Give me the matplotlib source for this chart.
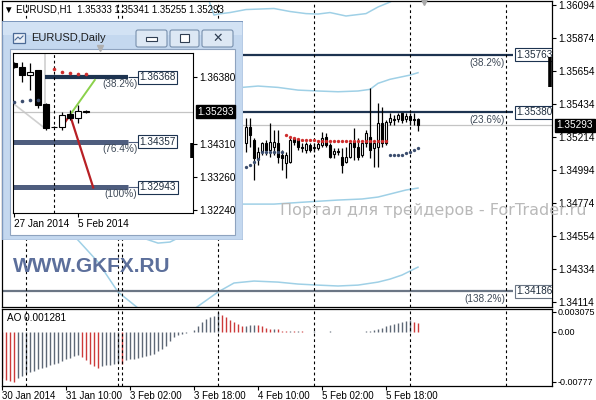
"""MT4 screenshot: EURUSD H1 with Bollinger bands, Fibonacci levels, AO and a Daily inset window."""
import matplotlib

matplotlib.use("Agg")
from matplotlib import pyplot as plt
from matplotlib import transforms
from matplotlib.patches import Rectangle, FancyBboxPatch

plt.rcParams["font.family"] = ["Liberation Sans", "DejaVu Sans"]
plt.rcParams["font.size"] = 7.2

BAND, NAVY, SLATE, GRAYLVL = "#9fd0e6", "#1d3350", "#4e5d7e", "#6b7685"
RED, DOTBLUE, AO_UP, AO_DN = "#cf2e2e", "#3b4d6e", "#5e6876", "#cc3a3a"
PRICE_LINE, LABEL = "#c4c4c4", "#3f4a58"

# ---------------- H1 data (bar index 0 = 30 Jan 18:00) ----------------
bars = list(range(61, 105))
opens = [1.35172, 1.35283, 1.35194, 1.35072, 1.35116, 1.35172, 1.35127, 1.35150, 1.35172, 1.35094,
         1.35039, 1.35050, 1.35205, 1.35194, 1.35150, 1.35127, 1.35161, 1.35139, 1.35139, 1.35161,
         1.35216, 1.35161, 1.35101, 1.35123, 1.35083, 1.35050, 1.35083, 1.35183, 1.35150, 1.35094,
         1.35172, 1.35216, 1.35139, 1.35150, 1.35305, 1.35172, 1.35316, 1.35332, 1.35332, 1.35372,
         1.35332, 1.35354, 1.35332, 1.35333]
highs = [1.35338, 1.35338, 1.35205, 1.35150, 1.35183, 1.35194, 1.35305, 1.35261, 1.35261, 1.35127,
         1.35116, 1.35205, 1.35216, 1.35205, 1.35172, 1.35183, 1.35172, 1.35172, 1.35194, 1.35250,
         1.35238, 1.35172, 1.35139, 1.35139, 1.35139, 1.35150, 1.35183, 1.35272, 1.35205, 1.35194,
         1.35261, 1.35538, 1.35183, 1.35438, 1.35416, 1.35327, 1.35372, 1.35361, 1.35372, 1.35376,
         1.35372, 1.35372, 1.35372, 1.35341]
lows = [1.35116, 1.35150, 1.34927, 1.35028, 1.35094, 1.35094, 1.35083, 1.35094, 1.35039, 1.34994,
        1.34938, 1.35039, 1.35161, 1.35127, 1.35116, 1.35105, 1.35116, 1.35116, 1.35127, 1.35150,
        1.35150, 1.35072, 1.35072, 1.35094, 1.34972, 1.35039, 1.35072, 1.35061, 1.35061, 1.35083,
        1.35150, 1.35072, 1.35016, 1.35016, 1.35150, 1.35161, 1.35294, 1.35294, 1.35316, 1.35305,
        1.35316, 1.35294, 1.35294, 1.35255]
closes = [1.35283, 1.35227, 1.35072, 1.35116, 1.35172, 1.35127, 1.35183, 1.35183, 1.35083, 1.35072,
          1.35094, 1.35194, 1.35183, 1.35150, 1.35139, 1.35167, 1.35127, 1.35150, 1.35167, 1.35205,
          1.35161, 1.35083, 1.35123, 1.35114, 1.35028, 1.35083, 1.35172, 1.35150, 1.35083, 1.35172,
          1.35238, 1.35127, 1.35172, 1.35305, 1.35172, 1.35316, 1.35338, 1.35327, 1.35361, 1.35327,
          1.35356, 1.35327, 1.35327, 1.35293]
last_close = 1.35293

# Bollinger bands (two sets)
bb_outer_up_x = [51, 53, 54, 57, 61, 68, 72, 76, 79, 82, 86, 91, 94, 97, 99]
bb_outer_up_y = [1.36180, 1.36027, 1.36034, 1.36044, 1.36064, 1.36071, 1.36051, 1.36037, 1.36034,
                 1.36044, 1.36021, 1.36037, 1.36081, 1.36114, 1.36147]
bb_inner_up_x = [56, 60, 64, 69, 74, 79, 84, 89, 92, 94, 97, 102, 104]
bb_inner_up_y = [1.35570, 1.35545, 1.35554, 1.35545, 1.35527, 1.35521, 1.35516, 1.35521, 1.35532,
                 1.35572, 1.35599, 1.35627, 1.35643]
bb_inner_lo_x = [30, 33, 36, 39, 42, 45, 50, 55, 60, 68, 76, 84, 90, 94, 97, 101, 104]
bb_inner_lo_y = [1.34640, 1.34581, 1.34534, 1.34507, 1.34514, 1.34554, 1.34647, 1.34714, 1.34767,
                 1.34767, 1.34781, 1.34794, 1.34801, 1.34814, 1.34834, 1.34861, 1.34874]
bb_outer_lo_x = [12, 15, 19, 24, 29, 34, 38, 43, 48, 54, 58, 63, 69, 74, 79, 84, 89, 94, 97, 100, 104]
bb_outer_lo_y = [1.34720, 1.34627, 1.34527, 1.34381, 1.34181, 1.34074, 1.34007, 1.34007, 1.34067,
                 1.34181, 1.34241, 1.34254, 1.34247, 1.34234, 1.34227, 1.34221, 1.34227, 1.34247,
                 1.34267, 1.34294, 1.34347]

red_dots_x = list(range(71, 97))
red_dots_y = [1.35225, 1.35214, 1.35205, 1.35198, 1.35194, 1.35194, 1.35192, 1.35192, 1.35190,
              1.35190, 1.35187] + [1.35185] * 15
blue_dots_a_x = list(range(61, 71))
blue_dots_a_y = [1.35014, 1.35030, 1.35048, 1.35070, 1.35116, 1.35116, 1.35116, 1.35116, 1.35116, 1.35116]
blue_dots_b_x = list(range(97, 105))
blue_dots_b_y = [1.35094, 1.35094, 1.35094, 1.35094, 1.35105, 1.35116, 1.35125, 1.35139]

fib_prices = [1.35763, 1.35380, 1.34186]
fib_names = ["(38.2%)", "(23.6%)", "(138.2%)"]
fib_colors = [NAVY, NAVY, GRAYLVL]
fib_end = 127.75

day_breaks = [6, 29, 30, 54, 78, 102, 126]
price_ticks = [1.36094, 1.35874, 1.35654, 1.35434, 1.35214, 1.34994, 1.34774, 1.34554, 1.34334, 1.34114]
time_ticks = [0, 16, 32, 48, 64, 80, 96]
time_labels = ["30 Jan 2014", "31 Jan 10:00", "3 Feb 02:00", "3 Feb 18:00",
               "4 Feb 10:00", "5 Feb 02:00", "5 Feb 18:00"]
edge_mark = (137.1, 1.35547, 1.35747)
shift_mark = 105.5

ao = [-0.00728, -0.00754, -0.00774, -0.00777, -0.00718, -0.00687, -0.00651, -0.00626, -0.00605, -0.00585,
      -0.00564, -0.00544, -0.00523, -0.00503, -0.00482, -0.00451, -0.00431, -0.00410, -0.00380, -0.00359,
      -0.00395, -0.00446, -0.00497, -0.00533, -0.00564, -0.00538, -0.00523, -0.00513, -0.00503, -0.00482,
      -0.00497, -0.00446, -0.00431, -0.00421, -0.00405, -0.00395, -0.00380, -0.00369, -0.00344, -0.00308,
      -0.00267, -0.00215, -0.00138, -0.00087, -0.00051, -0.00031, -0.00020, -0.00010, 0.00031, 0.00092,
      0.00154, 0.00195, 0.00226, 0.00246, 0.003075, 0.00256, 0.00236, 0.00185, 0.00144, 0.00118,
      0.00092, 0.00095, 0.00108, 0.00110, 0.00100, 0.00082, 0.00051, 0.00041, 0.00046, 0.00038,
      0.00015, 0.00005, 0.00008, 0.00006, 0.00007, 0.00005, 0.0, 0.0, 0.00004, 0.0,
      0.0, 0.00003, 0.00005, -0.00004, 0.00002, -0.00008, -0.00012, -0.00010, -0.00012, -0.00008,
      0.00002, 0.00008, 0.00015, 0.00022, 0.00041, 0.00062, 0.00082, 0.00103, 0.00118, 0.00133,
      0.00154, 0.00164, 0.00185, 0.00150, 0.001281]
ao_ticks = [0.003075, 0.0, -0.00777]
ao_tick_labels = ["0.003075", "0.00", "-0.00777"]

# ---------------- Daily inset data (index 0 = 27 Jan) ----------------
days = list(range(10))
d_open = [1.36805, 1.36681, 1.36442, 1.36598, 1.35540, 1.34834, 1.34834, 1.35218, 1.35094, 1.35332]
d_high = [1.36857, 1.36857, 1.36805, 1.36598, 1.35561, 1.34850, 1.35301, 1.35353, 1.35509, 1.35353]
d_low = [1.36650, 1.36235, 1.35975, 1.35405, 1.34730, 1.34820, 1.34730, 1.35042, 1.34938, 1.35255]
d_close = [1.36701, 1.36442, 1.36546, 1.35509, 1.34782, 1.34834, 1.35197, 1.35094, 1.35332, 1.35293]
d_red_x, d_red_y = [5, 6, 7, 8, 9], [1.36619, 1.36546, 1.36515, 1.36473, 1.36463]
d_blue_x, d_blue_y = [0, 1, 2, 3], [1.35612, 1.35633, 1.35654, 1.35664]
d_fib_prices = [1.36368, 1.34357, 1.32943]
d_fib_names = ["(38.2%)", "(76.4%)", "(100%)"]
d_fib_start = [3.875, -0.125, -0.125]
d_fib_colors = [NAVY, SLATE, SLATE]
d_fib_width = [3.0, 3.6, 3.6]
d_fib_end, d_fib_box = 14.25, 15.5
d_green_x, d_green_y = [7, 10.1], [1.35197, 1.36287]
d_red_line_x, d_red_line_y = [6.0, 7, 9.9], [1.34834, 1.35197, 1.32943]
d_gray_x, d_gray_y = [-0.125, 3.875, 3.875], [1.35561, 1.34782, 1.37127]
d_price_ticks = [1.36380, 1.34310, 1.33260, 1.32240]
d_time_ticks, d_time_labels = [0, 8], ["27 Jan 2014", "5 Feb 2014"]
d_edge_mark = (22.3, 1.33859, 1.34326)

W, H = 596, 400


def frac(x0, y0, x1, y1):
    # pixel box (top-left origin) -> figure fraction rect
    return [x0 / W, 1 - y1 / H, (x1 - x0) / W, (y1 - y0) / H]


def candles(ax, xs, o, h, l, c, width):
    ax.vlines(xs, l, h, color="black", lw=0.9, zorder=3)
    bottoms = [min(a, b) for a, b in zip(o, c)]
    heights = [abs(b - a) for a, b in zip(o, c)]
    faces = ["white" if b >= a else "black" for a, b in zip(o, c)]
    ax.bar(xs, heights, bottom=bottoms, width=width, color=faces, edgecolor="black", lw=0.8, zorder=3.5)


def price_tag(ax, value, dx):
    tr = transforms.blended_transform_factory(ax.transAxes, ax.transData)
    ax.text(1 + dx, value, f"{value:.5f}", transform=tr, color="white", va="center", ha="left",
            bbox=dict(boxstyle="square,pad=0.15", fc="black", ec="black"), clip_on=False, zorder=10)


fig = plt.figure(figsize=(W / 100, H / 100), dpi=100, facecolor="white")

# ---------------- main H1 panel ----------------
ax = fig.add_axes(frac(2, 1, 552, 307))
ax.set_xlim(0, 137.5)
ax.set_ylim(1.34081, 1.36121)
for bx, by in ((bb_outer_up_x, bb_outer_up_y), (bb_inner_up_x, bb_inner_up_y),
               (bb_inner_lo_x, bb_inner_lo_y), (bb_outer_lo_x, bb_outer_lo_y)):
    ax.plot(bx, by, color=BAND, lw=1.1, zorder=1)
ax.axhline(last_close, color=PRICE_LINE, lw=0.9, zorder=1.5)
for x in day_breaks:
    ax.axvline(x, color="black", lw=0.8, ls=(0, (2.5, 2.5)), zorder=2.5)

below = transforms.offset_copy(ax.transData, fig=fig, y=-3, units="dots")
for lvl, name, col in zip(fib_prices, fib_names, fib_colors):
    ax.hlines(lvl, 0, fib_end, color=col, lw=1.6, zorder=2)
    ax.text(125.75, lvl, name, transform=below, ha="right", va="top", color=LABEL, zorder=4)
    ax.text(128.6, lvl, f"{lvl:.5f}", ha="left", va="center", color="#1f2d3d", clip_on=True, zorder=4,
            bbox=dict(boxstyle="square,pad=0.15", fc="white", ec=col, lw=0.8))

candles(ax, bars, opens, highs, lows, closes, 0.7)
ax.plot(red_dots_x, red_dots_y, ls="none", marker="o", ms=2.4, mew=0, color=RED, zorder=4)
ax.plot(blue_dots_a_x, blue_dots_a_y, ls="none", marker="o", ms=2.4, mew=0, color=DOTBLUE, zorder=4)
ax.plot(blue_dots_b_x, blue_dots_b_y, ls="none", marker="o", ms=2.4, mew=0, color=DOTBLUE, zorder=4)
ax.vlines(edge_mark[0], edge_mark[1], edge_mark[2], color="black", lw=2.6, clip_on=False, zorder=5)
ax.plot([shift_mark], [1.36121], marker="v", ms=6, color="#a8a8a8", clip_on=False, zorder=5)

ax.yaxis.tick_right()
ax.set_yticks(price_ticks)
ax.set_yticklabels([f"{p:.5f}" for p in price_ticks])
ax.set_xticks([])
ax.tick_params(axis="y", length=3, width=0.8, pad=1.5)
for s in ax.spines.values():
    s.set_linewidth(0.9)
price_tag(ax, last_close, 4.5 / 550)

# ---------------- AO panel ----------------
ax2 = fig.add_axes(frac(2, 309, 552, 386))
ax2.set_xlim(0, 137.5)
ax2.set_ylim(-0.00846, 0.00354)
ao_colors = [AO_DN if i == 0 or v < ao[i - 1] else AO_UP for i, v in enumerate(ao)]
ax2.vlines(range(len(ao)), 0, ao, colors=ao_colors, lw=1.0)
for x in day_breaks:
    ax2.axvline(x, color="black", lw=0.8, ls=(0, (2.5, 2.5)))
ax2.yaxis.tick_right()
ax2.set_yticks(ao_ticks)
ax2.set_yticklabels(ao_tick_labels)
ax2.set_xticks(time_ticks)
ax2.set_xticklabels(time_labels)
for t in ax2.get_xticklabels():
    t.set_ha("left")
ax2.tick_params(axis="y", length=3, width=0.8, pad=1, labelsize=6.5)
ax2.tick_params(axis="x", length=3, width=0.8, pad=0.5, labelsize=7)
for s in ax2.spines.values():
    s.set_linewidth(0.9)

fig.text(4 / W, 1 - 10 / H, "▼ EURUSD,H1  1.35333 1.35341 1.35255 1.35293", va="center", fontsize=6.9)
fig.text(7 / W, 1 - 318 / H, "AO 0.001281", va="center", fontsize=7.2)
fig.text(13 / W, 1 - 266 / H, "WWW.GKFX.RU", va="center", fontsize=15, fontweight="bold", color="#5c6f9b")
fig.text(280 / W, 1 - 210 / H, "Портал для трейдеров - ForTrader.ru", va="center", fontsize=11.5,
         color="#b9b9b9", family="DejaVu Sans")

# ---------------- Daily window chrome ----------------
win = fig.add_axes(frac(2, 21, 243, 240))
win.set_zorder(5)
win.set_xlim(0, 241)
win.set_ylim(219, 0)
win.axis("off")
win.add_patch(Rectangle((0, 0), 241, 219, fc="#c4d8ef", ec="#7d98bd", lw=1))
win.add_patch(Rectangle((1, 1), 239, 13, fc="#d2e2f4", ec="none"))
win.add_patch(Rectangle((8, 28), 225, 186, fc="white", ec="#8ea3bf", lw=0.8))
win.add_patch(Rectangle((11, 12), 12, 10, fc="#eaf0f8", ec="#4b6a96", lw=0.9))
win.plot([13, 16, 18, 21], [19, 16, 18, 15], color="#4b6a96", lw=0.8)
win.text(29, 17, "EURUSD,Daily", va="center", fontsize=8, color="#1e1e1e")
for bx, bw in ((134, 31), (168, 29), (200, 31)):
    win.add_patch(FancyBboxPatch((bx, 9), bw, 17, boxstyle="round,pad=0,rounding_size=2",
                                 fc="#dde8f4", ec="#7890ad", lw=0.8))
win.add_patch(Rectangle((144, 16), 11, 3.5, fc="white", ec="#2f3e52", lw=0.8))
win.add_patch(Rectangle((178, 13), 9, 8, fc="white", ec="#2f3e52", lw=0.8))
win.text(215.5, 17.5, "✕", ha="center", va="center", fontsize=9, color="#2f3e52", family="DejaVu Sans")

# ---------------- Daily inset chart ----------------
ia = fig.add_axes(frac(13, 53, 193, 213))
ia.set_zorder(6)
ia.set_xlim(-0.125, 22.375)
ia.set_ylim(1.32147, 1.37127)
ia.plot(d_gray_x, d_gray_y, color="#d0d0d0", lw=1.2, zorder=1)
ia.axhline(last_close, color=PRICE_LINE, lw=0.9, zorder=1.5)
ia.axvline(5, color="black", lw=0.8, ls=(0, (2.5, 2.5)), zorder=2.5)
below_i = transforms.offset_copy(ia.transData, fig=fig, y=-2, units="dots")
for lvl, name, x0, col, lw in zip(d_fib_prices, d_fib_names, d_fib_start, d_fib_colors, d_fib_width):
    ia.hlines(lvl, x0, d_fib_end, color=col, lw=lw, zorder=2)
    ia.hlines(lvl, d_fib_end, d_fib_box, color=col, lw=0.8, zorder=2)
    ia.text(d_fib_box - 0.1, lvl, name, transform=below_i, ha="right", va="top", color=LABEL, zorder=4)
    ia.text(d_fib_box + 0.2, lvl, f"{lvl:.5f}", ha="left", va="center", color="#1f2d3d", zorder=4,
            bbox=dict(boxstyle="square,pad=0.15", fc="white", ec=NAVY, lw=0.8))
ia.plot(d_green_x, d_green_y, color="#8bd14b", lw=1.4, zorder=3)
ia.plot(d_red_line_x, d_red_line_y, color="#b82025", lw=1.6, zorder=3)
candles(ia, days, d_open, d_high, d_low, d_close, 0.7)
ia.plot(d_red_x, d_red_y, ls="none", marker="o", ms=2.6, mew=0, color=RED, zorder=4)
ia.plot(d_blue_x, d_blue_y, ls="none", marker="o", ms=2.6, mew=0, color=DOTBLUE, zorder=4)
ia.vlines(d_edge_mark[0], d_edge_mark[1], d_edge_mark[2], color="black", lw=2.6, clip_on=False, zorder=5)
ia.plot([10.75], [1.37127], marker="v", ms=5, color="#b0b0b0", clip_on=False,
        transform=transforms.offset_copy(ia.transData, fig=fig, y=5, units="dots"))
ia.yaxis.tick_right()
ia.set_yticks(d_price_ticks)
ia.set_yticklabels([f"{p:.5f}" for p in d_price_ticks])
ia.set_xticks(d_time_ticks)
ia.set_xticklabels(d_time_labels)
for t in ia.get_xticklabels():
    t.set_ha("left")
ia.tick_params(length=3, width=0.8, pad=1.5)
price_tag(ia, last_close, 4.5 / 180)

fig.savefig("out.png", dpi=100, facecolor="white")
